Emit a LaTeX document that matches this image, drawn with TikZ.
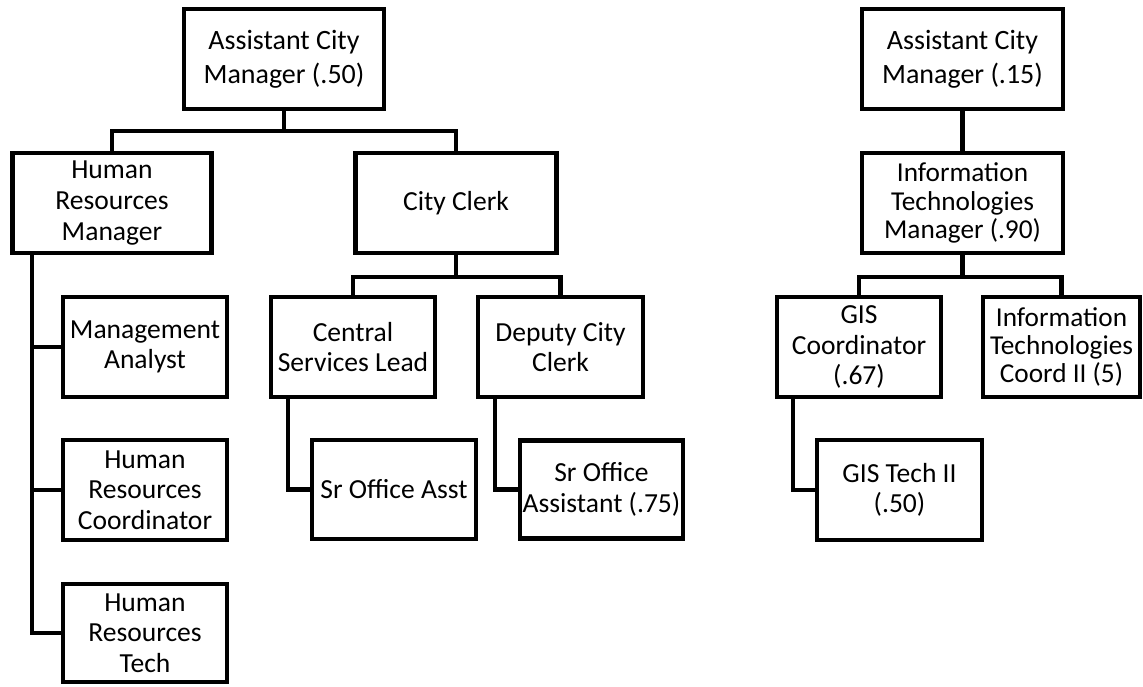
\documentclass[tikz,border=0pt]{standalone}
\usepackage{fontspec}
\setmainfont{Carlito}
\usetikzlibrary{positioning,calc}

\begin{document}
\begin{tikzpicture}[x=0.025cm,y=-0.025cm,
    role/.style={draw, line width=3.4pt, align=center, inner sep=0pt, outer sep=0pt,
        font=\fontsize{19.6}{21.8}\selectfont},
    toprole/.style={role, font=\fontsize{19.9}{24.5}\selectfont},
    itrole/.style={role, font=\fontsize{19.4}{20.1}\selectfont},
    boxsize/.style 2 args={minimum width=#1*0.025cm, minimum height=#2*0.025cm},
    link/.style={line width=3.4pt}]
    \useasboundingbox (0,0) rectangle (1143,686);

    % Assistant City Manager (.50) branch
    \node[toprole, boxsize={200}{100}] (acm) at (284,59) {Assistant City\\Manager (.50)};
    \node[role, boxsize={199}{100}] (hrm) at (112,203) {Human\\Resources\\Manager};
    \node[role, boxsize={201}{100}] (clerk) at (456,203) {City Clerk};

    % HR staff
    \node[role, boxsize={164}{100}] (analyst) at (145,347) {Management\\Analyst};
    \node[role, boxsize={164}{100}] (hrcoord) at (145,490) {Human\\Resources\\Coordinator};
    \node[role, boxsize={164}{98}] (hrtech) at (145,633) {Human\\Resources\\Tech};

    % Clerk staff
    \node[role, boxsize={164}{100}] (csl) at (353,347) {Central\\Services Lead};
    \node[role, boxsize={165}{100}] (dcc) at (560.5,347) {Deputy City\\Clerk};
    \node[role, boxsize={164}{99}] (sroa) at (394,489.5) {Sr Office Asst};
    \node[role, boxsize={163}{98}] (sroa75) at (601.5,489.5) {Sr Office\\Assistant (.75)};

    % Assistant City Manager (.15) branch
    \node[toprole, boxsize={201}{100}] (acm2) at (962.5,59) {Assistant City\\Manager (.15)};
    \node[itrole, boxsize={201}{100}] (itm) at (962.5,203) {Information\\Technologies\\Manager (.90)};
    \node[role, boxsize={164}{100}] (gis) at (859,347) {GIS\\Coordinator\\(.67)};
    \node[itrole, boxsize={157}{100}] (itc) at (1061.5,347) {Information\\Technologies\\Coord II (5)};
    \node[role, boxsize={165}{100}] (gistech) at (899.5,490) {GIS Tech II\\(.50)};

    % Connections
    \draw[link] (acm.south) -- ++(0,22) -| (hrm.north);
    \draw[link] (acm.south) -- ++(0,22) -| (clerk.north);
    \coordinate (hrtrunk) at ($(hrm.south west)+(19.5,0)$);
    \draw[link] (hrtrunk) |- (analyst.west);
    \draw[link] (hrtrunk) |- (hrcoord.west);
    \draw[link] (hrtrunk) |- (hrtech.west);
    \draw[link] (clerk.south) -- ++(0,24) -| (csl.north);
    \draw[link] (clerk.south) -- ++(0,24) -| (dcc.north);
    \draw[link] ($(csl.south west)+(17,0)$) |- (sroa.west);
    \draw[link] ($(dcc.south west)+(17,0)$) |- (sroa75.west);
    \draw[link] (acm2) -- (itm);
    \draw[link] (itm.south) -- ++(0,24) -| (gis.north);
    \draw[link] (itm.south) -- ++(0,24) -| (itc.north);
    \draw[link] ($(gis.south west)+(16,0)$) |- (gistech.west);
\end{tikzpicture}
\end{document}
